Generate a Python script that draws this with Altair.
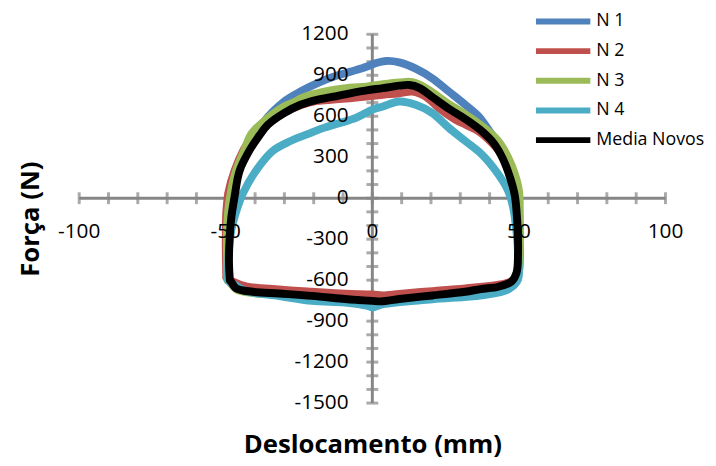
import altair as alt
import pandas as pd

series_names = ["N 1", "N 2", "N 3", "N 4", "Media Novos"]
series_colors = ["#4F81BD", "#C0504D", "#9BBB59", "#4BACC6", "#000000"]

n1_x = [-49.2, -49.4, -48.8, -47.8, -46.0, -43.0, -40.0, -36.9, -30.1, -24.5, -18.9, -13.3, -7.7, -2.0, 1.3, 4.7, 9.2, 14.8, 20.5, 26.1, 31.7, 36.2, 40.0, 43.5, 46.0, 48.0, 49.3, 49.8, 50.0, 49.6, 48.0, 43.0, 37.0, 31.7, 20.5, 9.2, 2.5, -2.0, -9.3, -20.6, -31.8, -40.8, -46.4, -48.8, -49.2]
n1_y = [-600, -300, -100, 50, 200, 340, 450, 563, 708, 781, 841, 889, 925, 962, 990, 1005, 995, 949, 877, 781, 684, 600, 490, 380, 270, 140, 0, -200, -400, -560, -620, -655, -675, -695, -720, -745, -760, -752, -742, -718, -700, -688, -662, -610, -600]

n2_x = [-49.8, -50.0, -49.8, -49.0, -47.0, -44.0, -41.0, -36.0, -30.1, -24.5, -18.9, -13.3, -7.7, -2.0, 3.6, 9.2, 13.7, 18.2, 22.7, 28.3, 31.7, 36.2, 41.0, 45.0, 47.5, 49.3, 50.2, 50.3, 49.8, 48.6, 45.2, 31.7, 20.5, 9.2, 3.6, 0.0, -9.3, -20.6, -31.8, -43.1, -47.6, -49.8]
n2_y = [-580, -300, -100, 50, 200, 350, 450, 545, 625, 680, 712, 722, 732, 744, 757, 768, 781, 744, 660, 576, 539, 491, 400, 290, 150, 0, -200, -450, -560, -595, -625, -660, -680, -700, -712, -705, -700, -685, -668, -645, -610, -580]

n3_x = [-49.4, -49.6, -49.2, -48.2, -46.5, -43.5, -41.4, -35.7, -30.1, -26.5, -24.0, -18.9, -13.3, -7.7, -2.0, 3.6, 9.2, 13.7, 18.2, 26.1, 31.7, 37.3, 42.9, 46.3, 48.6, 50.0, 50.3, 50.3, 49.6, 47.5, 43.0, 37.0, 31.7, 20.5, 9.2, 2.5, -2.0, -9.3, -20.6, -31.8, -40.8, -46.4, -48.6, -49.4]
n3_y = [-600, -300, -100, 50, 200, 360, 467, 587, 672, 705, 735, 768, 793, 810, 817, 835, 848, 850, 808, 690, 615, 530, 420, 300, 177, 56, -100, -400, -560, -622, -660, -680, -698, -722, -748, -765, -758, -748, -722, -706, -694, -668, -610, -600]

n4_x = [-49.2, -49.0, -48.1, -47.0, -44.2, -39.7, -34.0, -27.9, -22.3, -16.6, -11.0, -5.4, 0.2, 3.6, 9.2, 14.8, 20.5, 26.1, 31.7, 37.3, 42.9, 46.3, 48.0, 49.2, 49.8, 49.7, 46.3, 37.3, 20.5, 3.6, 0.0, -1.5, -9.3, -20.6, -31.8, -43.1, -47.6, -49.2]
n4_y = [-600, -400, -233, -137, 33, 201, 346, 419, 467, 515, 551, 590, 650, 672, 708, 684, 623, 515, 419, 322, 177, 56, -64, -250, -450, -595, -668, -711, -740, -776, -800, -789, -764, -752, -716, -680, -625, -600]

media_x = [-48.6, -48.9, -48.7, -48.1, -47.0, -45.3, -41.9, -38.5, -35.5, -30.1, -24.5, -18.9, -13.3, -7.7, -2.0, 3.6, 9.2, 12.6, 16.0, 20.5, 26.1, 31.7, 37.3, 41.5, 44.5, 47.0, 48.6, 49.4, 49.7, 49.2, 47.5, 43.0, 37.0, 31.7, 20.5, 9.2, 3.0, 0.0, -5.0, -9.3, -20.6, -31.8, -40.8, -46.4, -48.5, -48.6]
media_y = [-600, -470, -300, -140, 10, 200, 350, 460, 540, 623, 684, 720, 744, 768, 790, 806, 824, 829, 808, 740, 655, 580, 492, 400, 290, 150, 20, -160, -400, -545, -610, -648, -665, -685, -712, -738, -755, -752, -745, -738, -715, -698, -685, -660, -600, -600]

x_ticks = list(range(-100, 101, 10))
x_labels = [-100, -50, 0, 50, 100]
y_ticks = list(range(-1500, 1201, 100))
y_labels = [-1500, -1200, -900, -600, -300, 0, 300, 600, 900, 1200]

FONT = "Open Sans"
AXIS_GRAY = "#868686"

rows = []
for name, xs, ys in zip(series_names, [n1_x, n2_x, n3_x, n4_x, media_x], [n1_y, n2_y, n3_y, n4_y, media_y]):
    for i, (xv, yv) in enumerate(zip(xs, ys)):
        rows.append({"series": name, "x": xv, "y": yv, "order": i})
df = pd.DataFrame(rows)

xscale = alt.Scale(domain=[min(x_ticks), max(x_ticks)], nice=False, zero=False)
yscale = alt.Scale(domain=[min(y_ticks), max(y_ticks)], nice=False, zero=False)

xaxis = alt.Axis(title="Deslocamento (mm)", labels=False, ticks=False, domain=False, grid=False,
                 titleFont=FONT, titleFontSize=26, titleFontWeight="bold", titleColor="black", titlePadding=29)
yaxis = alt.Axis(title="Força (N)", labels=False, ticks=False, domain=False, grid=False,
                 titleFont=FONT, titleFontSize=26, titleFontWeight="bold", titleColor="black", titlePadding=36)

X = alt.X("x:Q", scale=xscale, axis=xaxis)
Y = alt.Y("y:Q", scale=yscale, axis=yaxis)

xaxis_df = pd.DataFrame({"x": [min(x_ticks)], "x2": [max(x_ticks)], "y": [0]})
yaxis_df = pd.DataFrame({"x": [0], "y": [min(y_ticks)], "y2": [max(y_ticks)]})

x_axis_line = alt.Chart(xaxis_df).mark_rule(color=AXIS_GRAY, strokeWidth=3).encode(x=X, x2="x2:Q", y=Y)
y_axis_line = alt.Chart(yaxis_df).mark_rule(color=AXIS_GRAY, strokeWidth=3).encode(x=X, y=Y, y2="y2:Q")

xt_df = pd.DataFrame({"x": x_ticks, "y": [0] * len(x_ticks)})
yt_df = pd.DataFrame({"x": [0] * len(y_ticks), "y": y_ticks})
x_tick_marks = alt.Chart(xt_df).mark_tick(orient="vertical", color=AXIS_GRAY, size=12, thickness=3).encode(x=X, y=Y)
y_tick_marks = alt.Chart(yt_df).mark_tick(orient="horizontal", color=AXIS_GRAY, size=12, thickness=3).encode(x=X, y=Y)

lines = alt.Chart(df).mark_line(strokeWidth=8, strokeCap="round", strokeJoin="round", interpolate="catmull-rom").encode(
    x=X, y=Y,
    color=alt.Color("series:N", scale=alt.Scale(domain=series_names, range=series_colors),
                    legend=alt.Legend(title=None, orient="none", legendX=459, legendY=-23,
                                      symbolType="stroke", symbolSize=3025, symbolStrokeWidth=6,
                                      labelFont=FONT, labelFontSize=18, labelColor="black",
                                      rowPadding=10, clipHeight=20, labelOffset=3, padding=0,
                                      labelLimit=200)),
    order="order:Q",
)

xl_df = pd.DataFrame({"x": x_labels, "y": [0] * len(x_labels), "t": [str(v) for v in x_labels]})
yl_df = pd.DataFrame({"x": [0] * len(y_labels), "y": y_labels, "t": [str(v) for v in y_labels]})
x_label_text = alt.Chart(xl_df).mark_text(font=FONT, fontSize=21, color="black", dy=34, baseline="middle", align="center").encode(x=X, y=Y, text="t:N")
y_label_text = alt.Chart(yl_df).mark_text(font=FONT, fontSize=21, color="black", dx=-24, baseline="middle", align="right").encode(x=X, y=Y, text="t:N")

chart = alt.layer(x_axis_line, y_axis_line, x_tick_marks, y_tick_marks, lines, x_label_text, y_label_text).properties(
    width=593, height=373,
    padding={"left": 72, "top": 24, "right": 43, "bottom": 59},
    autosize=alt.AutoSizeParams(type="none"),
    background="white",
).configure_view(stroke=None)

chart.save("out.html", embed_options={"renderer": "svg", "actions": False})
